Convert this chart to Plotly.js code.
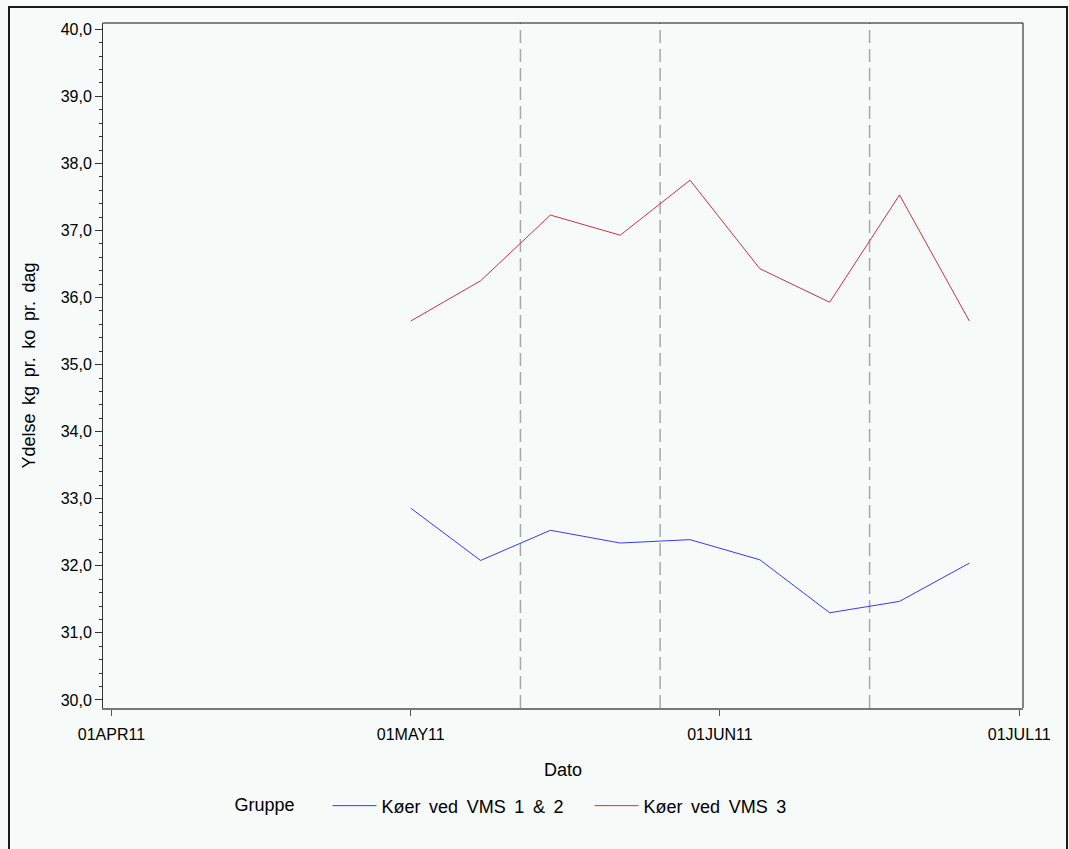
<!DOCTYPE html>
<html>
<head>
<meta charset="utf-8">
<script src="https://cdn.plot.ly/plotly-3.0.1.min.js"></script>
<style>
html,body{margin:0;padding:0;background:#f6faf8;width:1069px;height:849px;overflow:hidden;}
#plot{position:absolute;left:0;top:0;width:1069px;height:849px;}
#frame{position:absolute;left:8px;top:6px;width:1056px;height:900px;border:2px solid #1a1a1a;pointer-events:none;}
</style>
</head>
<body>
<div id="plot"></div>
<div id="frame"></div>
<script>
// Data
const dates = ['2011-05-01','2011-05-08','2011-05-15','2011-05-22','2011-05-29','2011-06-05','2011-06-12','2011-06-19','2011-06-26'];
const vms12 = [32.86, 32.08, 32.53, 32.34, 32.39, 32.09, 31.30, 31.47, 32.04];
const vms3  = [35.65, 36.25, 37.23, 36.93, 37.75, 36.43, 35.93, 37.53, 35.65];
const SP = ' \u2009';
const seriesNames = ['Køer'+SP+'ved'+SP+'VMS'+SP+'1'+SP+'&'+SP+'2', 'Køer'+SP+'ved'+SP+'VMS'+SP+'3'];
const yTitle = 'Ydelse'+SP+'kg'+SP+'pr.'+SP+'ko'+SP+'pr.'+SP+'dag';
const refDates = ['2011-05-12','2011-05-26','2011-06-16'];
const xTickVals = ['2011-04-01','2011-05-01','2011-06-01','2011-07-01'];
const xTickText = ['01APR11','01MAY11','01JUN11','01JUL11'];
const yTickVals = [30,31,32,33,34,35,36,37,38,39,40];

const tickFont = {family:'Liberation Sans, Arial, sans-serif', size:16, color:'#000'};
const font = {family:'Liberation Sans, Arial, sans-serif', size:18, color:'#000'};
const bg = '#f6faf8';

const traces = [
  {x:dates, y:vms12, type:'scatter', mode:'lines', name:seriesNames[0], line:{color:'#3a3af0', width:1}},
  {x:dates, y:vms3, type:'scatter', mode:'lines', name:seriesNames[1], line:{color:'#c8344a', width:1}}
];

const shapes = refDates.map(d => ({
  type:'line', xref:'x', yref:'paper', x0:d, x1:d, y0:0, y1:1,
  line:{color:'#a8a8a8', width:1.5, dash:'13px,6px'}, layer:'below'
}));
shapes.push({type:'line', xref:'paper', yref:'paper', x0:0, x1:1, y0:1, y1:1, line:{color:'#111', width:1}});
shapes.push({type:'line', xref:'paper', yref:'paper', x0:1, x1:1, y0:0, y1:1, line:{color:'#111', width:1}});

const layout = {
  width:1069, height:849,
  paper_bgcolor:bg, plot_bgcolor:bg,
  font:font,
  separators:',.',
  margin:{l:103, r:46, t:23, b:141},
  showlegend:true,
  legend:{orientation:'h', x:0.1407, xanchor:'left', y:-0.143, yanchor:'middle',
          bgcolor:'rgba(0,0,0,0)', font:font, title:{text:'Gruppe     ', side:'left', font:font},
          itemwidth:44, entrywidth:203, entrywidthmode:'pixels', tracegroupgap:0},
  xaxis:{type:'date', range:['2011-03-31 03:36','2011-07-01 09:07'],
         tickmode:'array', tickvals:xTickVals, ticktext:xTickText,
         ticks:'outside', ticklen:6, tickcolor:'#555', showgrid:false, zeroline:false,
         showline:true, linecolor:'#777', linewidth:1.5, ticklabelstandoff:5,
         tickfont:tickFont, title:{text:'Dato', font:font, standoff:21}, automargin:false},
  yaxis:{range:[29.88, 40.094], tickmode:'array', tickvals:yTickVals, tickformat:'.1f',
         ticks:'outside', ticklen:7, tickcolor:'#333', showgrid:false, zeroline:false,
         showline:true, linecolor:'#333', linewidth:1,
         minor:{dtick:0.2, ticks:'outside', ticklen:3, tickcolor:'#333', showgrid:false},
         tickfont:tickFont, title:{text:yTitle, font:font, standoff:20}, automargin:false},
  shapes:shapes
};

Plotly.newPlot('plot', traces, layout, {displayModeBar:false, staticPlot:true});
</script>
</body>
</html>
